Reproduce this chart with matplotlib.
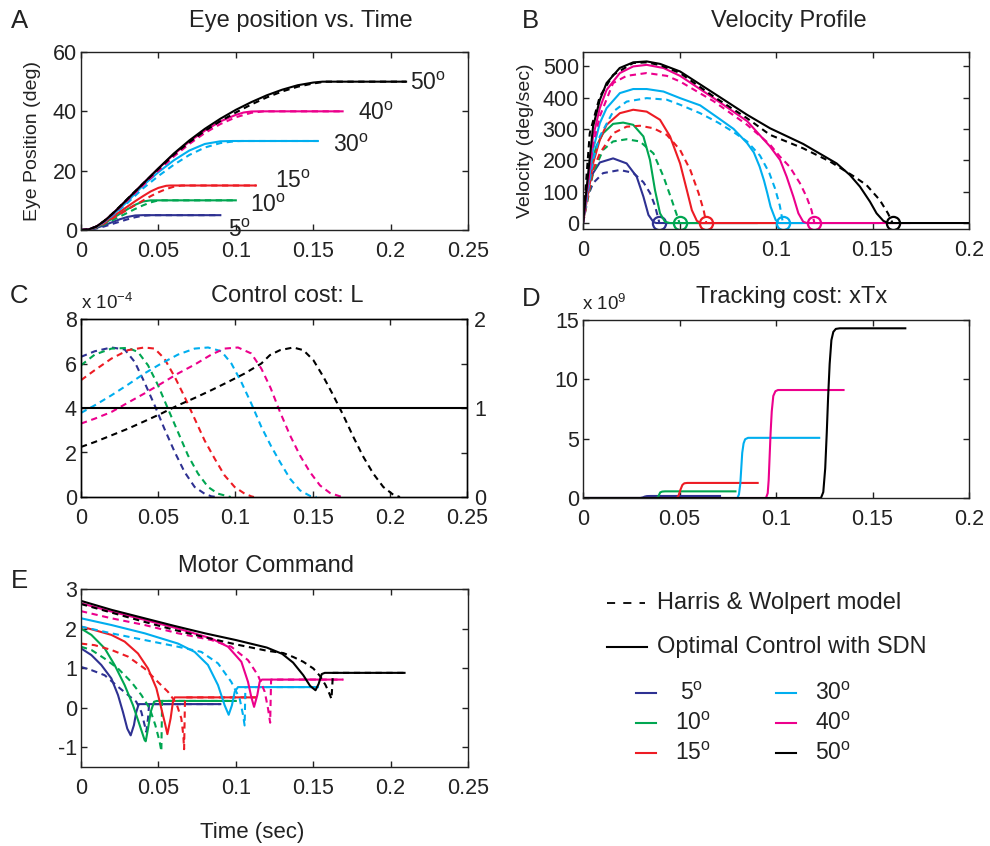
import matplotlib
matplotlib.use("Agg")
import matplotlib.pyplot as plt
from matplotlib.lines import Line2D

plt.rcParams['font.family'] = ['Liberation Sans', 'DejaVu Sans']
plt.rcParams['mathtext.fontset'] = 'custom'
plt.rcParams['mathtext.rm'] = 'Liberation Sans'
plt.rcParams['mathtext.it'] = 'Liberation Sans:italic'
plt.rcParams['mathtext.bf'] = 'Liberation Sans:bold'
plt.rcParams['axes.linewidth'] = 1.0

# ---------------- data ----------------
amplitudes = [5, 10, 15, 30, 40, 50]
colors = ['#2E3192', '#00A651', '#ED1C24', '#00AEEF', '#EC008C', '#000000']

x_ticks_025 = [0, 0.05, 0.1, 0.15, 0.2, 0.25]
x_labels_025 = ['0', '0.05', '0.1', '0.15', '0.2', '0.25']
x_ticks_02 = [0, 0.05, 0.1, 0.15, 0.2]
x_labels_02 = ['0', '0.05', '0.1', '0.15', '0.2']
E_y_ticks = [-1, 0, 1, 2, 3]
E_y_labels = ['-1', '0', '1', '2', '3']

# Panel A: eye position (deg) vs time (s)
A_5_solid = [(0, 0), (0.005, 0.15), (0.01, 0.7), (0.015, 1.6), (0.02, 2.6), (0.025, 3.6), (0.03, 4.4), (0.035, 4.9), (0.04, 5.0), (0.09, 5.0)]
A_5_dashed = [(0, 0), (0.005, 0.1), (0.01, 0.5), (0.015, 1.2), (0.02, 2.0), (0.025, 2.8), (0.03, 3.6), (0.035, 4.3), (0.04, 4.8), (0.045, 5.0), (0.09, 5.0)]
A_10_solid = [(0, 0), (0.005, 0.2), (0.01, 0.9), (0.015, 2.2), (0.02, 3.8), (0.025, 5.4), (0.03, 7.0), (0.035, 8.5), (0.04, 9.6), (0.045, 10.0), (0.1, 10.0)]
A_10_dashed = [(0, 0), (0.005, 0.15), (0.01, 0.8), (0.015, 1.9), (0.02, 3.2), (0.025, 4.5), (0.03, 5.8), (0.035, 7.1), (0.04, 8.3), (0.045, 9.3), (0.05, 10.0), (0.1, 10.0)]
A_15_solid = [(0, 0), (0.005, 0.2), (0.01, 1.0), (0.015, 2.5), (0.02, 4.3), (0.025, 6.1), (0.03, 7.9), (0.035, 9.7), (0.04, 11.4), (0.045, 13.0), (0.05, 14.2), (0.055, 14.9), (0.058, 15.0), (0.113, 15.0)]
A_15_dashed = [(0, 0), (0.005, 0.2), (0.01, 0.9), (0.015, 2.2), (0.02, 3.8), (0.025, 5.3), (0.03, 6.9), (0.035, 8.4), (0.04, 9.9), (0.045, 11.4), (0.05, 12.7), (0.055, 13.8), (0.06, 14.6), (0.065, 15.0), (0.113, 15.0)]
A_30_solid = [(0, 0), (0.005, 0.2), (0.01, 1.1), (0.015, 2.8), (0.02, 4.9), (0.025, 7.2), (0.03, 9.6), (0.04, 15.0), (0.05, 19.5), (0.06, 23.5), (0.07, 26.8), (0.08, 29.0), (0.09, 29.9), (0.098, 30.0), (0.153, 30.0)]
A_30_dashed = [(0, 0), (0.005, 0.2), (0.01, 1.1), (0.015, 2.7), (0.02, 4.7), (0.025, 6.9), (0.03, 9.1), (0.04, 14.0), (0.05, 18.2), (0.06, 22.0), (0.07, 25.3), (0.08, 27.8), (0.09, 29.3), (0.1, 29.95), (0.104, 30.0), (0.153, 30.0)]
A_40_solid = [(0, 0), (0.005, 0.2), (0.01, 1.2), (0.015, 3.0), (0.02, 5.3), (0.025, 7.8), (0.03, 10.4), (0.04, 15.6), (0.05, 20.7), (0.06, 25.5), (0.07, 29.8), (0.08, 33.5), (0.09, 36.6), (0.1, 38.8), (0.105, 39.6), (0.11, 39.95), (0.115, 40.0), (0.169, 40.0)]
A_40_dashed = [(0, 0), (0.005, 0.2), (0.01, 1.2), (0.015, 2.9), (0.02, 5.1), (0.025, 7.5), (0.03, 10.0), (0.04, 15.0), (0.05, 20.0), (0.06, 24.8), (0.07, 29.0), (0.08, 32.7), (0.09, 35.7), (0.1, 38.0), (0.11, 39.5), (0.118, 40.0), (0.169, 40.0)]
A_50_solid = [(0, 0), (0.005, 0.2), (0.01, 1.2), (0.015, 3.0), (0.02, 5.3), (0.025, 7.8), (0.03, 10.4), (0.04, 15.6), (0.05, 20.8), (0.06, 25.8), (0.07, 30.2), (0.08, 34.1), (0.09, 37.5), (0.1, 40.5), (0.11, 43.1), (0.12, 45.4), (0.13, 47.3), (0.14, 48.8), (0.15, 49.7), (0.156, 50.0), (0.21, 50.0)]
A_50_dashed = [(0, 0), (0.005, 0.2), (0.01, 1.2), (0.015, 3.1), (0.02, 5.4), (0.025, 7.9), (0.03, 10.5), (0.04, 15.6), (0.05, 20.6), (0.06, 25.4), (0.07, 29.6), (0.08, 33.4), (0.09, 36.7), (0.1, 39.6), (0.11, 42.3), (0.12, 44.7), (0.13, 46.7), (0.14, 48.3), (0.15, 49.4), (0.158, 50.0), (0.21, 50.0)]

# Panel B: velocity (deg/s)
B_5_solid = [(0, 0), (0.0017, 95), (0.0052, 159), (0.0087, 193), (0.0156, 206), (0.0226, 190), (0.0278, 148), (0.0313, 84), (0.0339, 26), (0.0365, 3), (0.038, 0), (0.09, 0)]
B_5_dashed = [(0, 0), (0.0017, 73), (0.0052, 127), (0.0104, 159), (0.0191, 169), (0.026, 160), (0.0313, 130), (0.0348, 95), (0.0373, 55), (0.0396, 0)]
B_10_solid = [(0, 0), (0.0035, 169), (0.0069, 244), (0.0104, 286), (0.0156, 316), (0.0208, 320), (0.026, 313), (0.0313, 276), (0.0347, 201), (0.0373, 105), (0.0399, 31), (0.0425, 4), (0.045, 0), (0.1, 0)]
B_10_dashed = [(0, 0), (0.0052, 159), (0.0104, 233), (0.0156, 260), (0.0226, 267), (0.0295, 260), (0.0365, 222), (0.0417, 148), (0.046, 73), (0.0486, 26), (0.05, 0)]
B_15_solid = [(0, 0), (0.0052, 190), (0.0087, 265), (0.0122, 313), (0.0191, 350), (0.026, 361), (0.033, 355), (0.0399, 329), (0.0451, 276), (0.0503, 190), (0.0538, 105), (0.0564, 41), (0.059, 7), (0.061, 0), (0.113, 0)]
B_15_dashed = [(0, 0), (0.0052, 169), (0.0087, 222), (0.0156, 286), (0.0226, 307), (0.0295, 310), (0.0365, 302), (0.0434, 281), (0.0503, 233), (0.0556, 169), (0.0599, 95), (0.0625, 41), (0.0639, 0)]
B_30_solid = [(0, 0), (0.0052, 233), (0.0087, 318), (0.0122, 366), (0.0191, 414), (0.026, 427), (0.033, 427), (0.0417, 419), (0.0503, 398), (0.0607, 375), (0.07, 335), (0.078, 300), (0.085, 255), (0.0885, 225), (0.0915, 180), (0.0938, 135), (0.0955, 95), (0.0972, 52), (0.0998, 10), (0.1015, 0), (0.153, 0)]
B_30_dashed = [(0, 0), (0.0052, 201), (0.0087, 276), (0.0156, 355), (0.0226, 387), (0.033, 398), (0.0434, 393), (0.0503, 377), (0.0607, 350), (0.07, 320), (0.078, 290), (0.085, 260), (0.0917, 215), (0.0965, 160), (0.0995, 110), (0.102, 55), (0.1036, 0)]
B_40_solid = [(0, 0), (0.0052, 275), (0.0087, 366), (0.0122, 424), (0.0191, 478), (0.026, 499), (0.033, 504), (0.0417, 494), (0.0503, 469), (0.0677, 398), (0.085, 325), (0.0969, 244), (0.1021, 201), (0.1055, 148), (0.109, 84), (0.1116, 31), (0.1141, 4), (0.116, 0), (0.169, 0)]
B_40_dashed = [(0, 0), (0.0052, 250), (0.0087, 340), (0.0156, 446), (0.0226, 469), (0.033, 478), (0.0434, 469), (0.0503, 451), (0.0677, 388), (0.085, 313), (0.0969, 250), (0.102, 212), (0.107, 180), (0.1124, 127), (0.1158, 84), (0.1184, 41), (0.1199, 0)]
B_50_solid = [(0, 0), (0.0052, 307), (0.0087, 392), (0.0122, 446), (0.019, 494), (0.026, 512), (0.033, 515), (0.04, 507), (0.0503, 483), (0.0677, 414), (0.085, 345), (0.0969, 302), (0.1141, 252), (0.1314, 190), (0.1383, 153), (0.1435, 116), (0.1487, 68), (0.1521, 31), (0.1556, 7), (0.158, 0), (0.21, 0)]
B_50_dashed = [(0, 0), (0.0035, 286), (0.0087, 403), (0.0156, 472), (0.026, 510), (0.033, 512), (0.04, 503), (0.0503, 478), (0.0677, 403), (0.085, 334), (0.0969, 281), (0.1141, 238), (0.128, 196), (0.14, 150), (0.1469, 121), (0.1538, 73), (0.158, 31), (0.1604, 0)]
B_end_times = [0.0396, 0.05, 0.0639, 0.1036, 0.1199, 0.1604]

# Panel C: control cost L (x 1e-4), Harris & Wolpert (dashed); SDN level on right axis
C_5_dashed = [(0, 6.3), (0.0089, 6.55), (0.0197, 6.72), (0.0283, 6.63), (0.0348, 6.07), (0.041, 5.17), (0.0477, 4.12), (0.054, 3.07), (0.0607, 2.02), (0.0671, 1.12), (0.0736, 0.45), (0.08, 0.15), (0.0844, 0.03), (0.088, 0)]
C_10_dashed = [(0, 5.92), (0.0089, 6.4), (0.0197, 6.67), (0.0304, 6.7), (0.0369, 6.52), (0.0434, 5.92), (0.0499, 5.02), (0.0563, 3.97), (0.0628, 2.92), (0.0693, 1.87), (0.0758, 1.05), (0.0823, 0.45), (0.0887, 0.15), (0.0952, 0.03), (0.097, 0)]
C_15_dashed = [(0, 5.25), (0.0089, 5.7), (0.0197, 6.22), (0.0304, 6.6), (0.041, 6.72), (0.0477, 6.67), (0.054, 6.22), (0.0607, 5.4), (0.0671, 4.5), (0.0736, 3.52), (0.08, 2.55), (0.0866, 1.72), (0.093, 0.97), (0.0995, 0.45), (0.106, 0.15), (0.1103, 0.03), (0.112, 0)]
C_30_dashed = [(0, 3.78), (0.0089, 4.12), (0.0197, 4.57), (0.0304, 5.05), (0.041, 5.55), (0.052, 6.0), (0.0628, 6.4), (0.0736, 6.67), (0.0823, 6.72), (0.0909, 6.55), (0.0974, 6.0), (0.1038, 5.17), (0.1103, 4.2), (0.1168, 3.15), (0.123, 2.3), (0.1289, 1.57), (0.1354, 0.82), (0.1418, 0.3), (0.1483, 0.05), (0.1526, 0)]
C_40_dashed = [(0, 3.3), (0.0089, 3.52), (0.0197, 3.82), (0.0304, 4.24), (0.041, 4.65), (0.052, 5.1), (0.0628, 5.55), (0.0736, 5.95), (0.0844, 6.4), (0.093, 6.67), (0.1017, 6.72), (0.1103, 6.45), (0.1168, 5.77), (0.1228, 4.9), (0.1289, 3.82), (0.1354, 2.77), (0.1418, 1.87), (0.1483, 1.12), (0.1548, 0.52), (0.1613, 0.18), (0.1677, 0.03), (0.17, 0)]
C_50_dashed = [(0, 2.25), (0.0089, 2.47), (0.0197, 2.77), (0.0304, 3.07), (0.041, 3.4), (0.052, 3.75), (0.0628, 4.12), (0.0736, 4.45), (0.0844, 4.8), (0.0952, 5.17), (0.106, 5.55), (0.1168, 6.0), (0.1224, 6.38), (0.1289, 6.6), (0.1375, 6.72), (0.144, 6.6), (0.1505, 6.15), (0.157, 5.4), (0.1634, 4.57), (0.1699, 3.67), (0.1764, 2.7), (0.1829, 1.8), (0.1893, 1.05), (0.1958, 0.45), (0.2023, 0.1), (0.2066, 0)]
C_sdn_level = [(0, 1.0), (0.25, 1.0)]

# Panel D: tracking cost xTx (x 1e9)
D_5_solid = [(0, 0), (0.0297, 0), (0.031, 0.05), (0.032, 0.12), (0.0331, 0.16), (0.035, 0.17), (0.071, 0.17)]
D_10_solid = [(0, 0), (0.038, 0), (0.039, 0.1), (0.0395, 0.3), (0.04, 0.47), (0.041, 0.54), (0.0425, 0.56), (0.079, 0.56)]
D_15_solid = [(0, 0), (0.0486, 0), (0.0495, 0.2), (0.0505, 0.7), (0.0515, 1.1), (0.0525, 1.24), (0.054, 1.27), (0.0905, 1.27)]
D_30_solid = [(0, 0), (0.08, 0), (0.0808, 0.3), (0.0815, 1.2), (0.082, 2.5), (0.0825, 3.8), (0.0832, 4.6), (0.084, 4.95), (0.0855, 5.07), (0.1224, 5.07)]
D_40_solid = [(0, 0), (0.0948, 0), (0.0957, 0.4), (0.0962, 1.5), (0.0967, 3.5), (0.0972, 5.5), (0.0978, 7.3), (0.0986, 8.6), (0.0997, 9.0), (0.101, 9.1), (0.135, 9.1)]
D_50_solid = [(0, 0), (0.1233, 0), (0.1245, 0.5), (0.1255, 2.5), (0.1263, 5.5), (0.127, 8.5), (0.1278, 11.3), (0.1287, 13.3), (0.1297, 14.0), (0.131, 14.25), (0.133, 14.3), (0.167, 14.3)]

# Panel E: motor command
E_5_solid = [(0, 1.5), (0.0067, 1.33), (0.0131, 1.08), (0.0196, 0.74), (0.0239, 0.32), (0.0271, -0.11), (0.0299, -0.53), (0.0321, -0.70), (0.0342, -0.44), (0.0357, -0.11), (0.0373, 0.09), (0.039, 0.09), (0.09, 0.09)]
E_5_dashed = [(0, 1.03), (0.0067, 0.95), (0.0153, 0.82), (0.0239, 0.53), (0.0304, 0.32), (0.0357, 0.15), (0.039, -0.11), (0.0411, -0.44), (0.0422, -0.61), (0.0433, -0.27), (0.044, 0.09), (0.09, 0.09)]
E_10_solid = [(0, 2.0), (0.0067, 1.84), (0.0153, 1.5), (0.0217, 1.08), (0.0282, 0.57), (0.0336, 0.06), (0.0379, -0.44), (0.0411, -0.82), (0.0418, -0.85), (0.0433, -0.53), (0.045, -0.11), (0.0472, 0.15), (0.049, 0.17), (0.1, 0.17)]
E_10_dashed = [(0, 1.54), (0.0067, 1.46), (0.0153, 1.24), (0.0239, 0.99), (0.0325, 0.65), (0.039, 0.32), (0.0444, -0.02), (0.048, -0.44), (0.0508, -0.86), (0.0519, -1.1), (0.0524, 0.17), (0.1, 0.17)]
E_15_solid = [(0, 2.05), (0.0088, 1.96), (0.0196, 1.84), (0.0282, 1.67), (0.0368, 1.37), (0.0433, 0.99), (0.0487, 0.49), (0.0519, -0.02), (0.0545, -0.44), (0.0558, -0.67), (0.0579, -0.27), (0.0594, 0.15), (0.0605, 0.26), (0.063, 0.26), (0.113, 0.26)]
E_15_dashed = [(0, 1.62), (0.0088, 1.58), (0.0196, 1.46), (0.0304, 1.29), (0.0411, 0.99), (0.0497, 0.65), (0.0562, 0.4), (0.0616, 0.11), (0.0648, -0.27), (0.0661, -0.70), (0.0666, -1.05), (0.0672, 0.26), (0.113, 0.26)]
E_30_solid = [(0, 2.26), (0.0196, 2.09), (0.0411, 1.88), (0.0627, 1.62), (0.0734, 1.41), (0.082, 1.08), (0.0885, 0.57), (0.0928, 0.06), (0.0954, -0.18), (0.0975, 0.06), (0.0993, 0.4), (0.1014, 0.52), (0.153, 0.52)]
E_30_dashed = [(0, 2.05), (0.0196, 1.88), (0.0411, 1.71), (0.0627, 1.54), (0.0777, 1.41), (0.0885, 1.12), (0.0971, 0.65), (0.1025, 0.23), (0.1047, -0.19), (0.1057, -0.45), (0.1062, 0.52), (0.153, 0.52)]
E_40_solid = [(0, 2.64), (0.0196, 2.43), (0.0411, 2.22), (0.0627, 2.0), (0.0842, 1.75), (0.095, 1.54), (0.1036, 1.16), (0.1079, 0.65), (0.11, 0.27), (0.1118, 0.02), (0.1139, 0.32), (0.1154, 0.65), (0.1169, 0.71), (0.169, 0.71)]
E_40_dashed = [(0, 2.44), (0.0196, 2.26), (0.0411, 2.09), (0.0627, 1.88), (0.0842, 1.71), (0.0971, 1.54), (0.1079, 1.2), (0.1143, 0.82), (0.1187, 0.4), (0.1208, -0.02), (0.1222, -0.38), (0.1228, 0.71), (0.169, 0.71)]
E_50_solid = [(0, 2.7), (0.02, 2.47), (0.04, 2.27), (0.06, 2.07), (0.08, 1.88), (0.1, 1.71), (0.12, 1.52), (0.13, 1.36), (0.137, 1.14), (0.1436, 0.82), (0.148, 0.55), (0.1515, 0.44), (0.1535, 0.6), (0.1555, 0.85), (0.1575, 0.88), (0.209, 0.88)]
E_50_dashed = [(0, 2.62), (0.02, 2.4), (0.04, 2.18), (0.06, 1.97), (0.08, 1.78), (0.1, 1.6), (0.12, 1.44), (0.1307, 1.38), (0.1372, 1.28), (0.1436, 1.16), (0.1501, 0.99), (0.1544, 0.8), (0.158, 0.57), (0.1605, 0.35), (0.1618, 0.22), (0.1628, 0.88), (0.209, 0.88)]

A_solid = [A_5_solid, A_10_solid, A_15_solid, A_30_solid, A_40_solid, A_50_solid]
A_dashed = [A_5_dashed, A_10_dashed, A_15_dashed, A_30_dashed, A_40_dashed, A_50_dashed]
B_solid = [B_5_solid, B_10_solid, B_15_solid, B_30_solid, B_40_solid, B_50_solid]
B_dashed = [B_5_dashed, B_10_dashed, B_15_dashed, B_30_dashed, B_40_dashed, B_50_dashed]
C_dashed = [C_5_dashed, C_10_dashed, C_15_dashed, C_30_dashed, C_40_dashed, C_50_dashed]
D_solid = [D_5_solid, D_10_solid, D_15_solid, D_30_solid, D_40_solid, D_50_solid]
E_solid = [E_5_solid, E_10_solid, E_15_solid, E_30_solid, E_40_solid, E_50_solid]
E_dashed = [E_5_dashed, E_10_dashed, E_15_dashed, E_30_dashed, E_40_dashed, E_50_dashed]

# ---------------- figure ----------------
W, H = 990, 846
fig = plt.figure(figsize=(W / 100, H / 100), dpi=100)

def rect(l, t, r, b):
    return [l / W, 1 - b / H, (r - l) / W, (b - t) / H]

def ftext(x, y, s, **kw):
    fig.text(x / W, 1 - y / H, s, **kw)

TICK_FS = 15.5
TITLE_FS = 17
LW = 1.5
DASH = (0, (3.0, 2.2))
TC = '#222222'

def deg(a):
    return str(a) + r'$^{\mathrm{o}}$'

def style(ax, right=True):
    ax.tick_params(direction='in', length=4, width=1, top=True, right=right,
                   labelsize=TICK_FS, colors=TC)
    ax.tick_params(axis='x', pad=8)
    ax.tick_params(axis='y', pad=3)
    for s in ax.spines.values():
        s.set_color(TC)

def xy(curve):
    return [p[0] for p in curve], [p[1] for p in curve]

# Panel A
axA = fig.add_axes(rect(81, 52, 468, 230))
for c, s, d in zip(colors, A_solid, A_dashed):
    axA.plot(*xy(s), color=c, lw=LW)
    axA.plot(*xy(d), color=c, lw=LW, linestyle=DASH)
axA.set_xlim(0, 0.25)
axA.set_ylim(0, 60)
axA.set_xticks(x_ticks_025, x_labels_025)
axA.set_yticks([0, 20, 40, 60])
style(axA)
A_label_pos = [(0.0952, -2.3), (0.1092, 6.2), (0.1253, 14.0), (0.163, 26.4), (0.1791, 37.1), (0.2125, 47.2)]
for a, (tx, ty) in zip(amplitudes, A_label_pos):
    axA.text(tx, ty, deg(a), fontsize=16.5, va='baseline', ha='left', color=TC, clip_on=False)

# Panel B
axB = fig.add_axes(rect(583, 52, 969, 229))
for c, s, d, te in zip(colors, B_solid, B_dashed, B_end_times):
    axB.plot(*xy(s), color=c, lw=LW)
    axB.plot(*xy(d), color=c, lw=LW, linestyle=DASH)
    axB.plot([te], [0], 'o', mfc='none', mec=c, mew=1.6, ms=9.5)
axB.set_xlim(0, 0.2)
axB.set_ylim(-19, 545)
axB.set_xticks(x_ticks_02, x_labels_02)
axB.set_yticks([0, 100, 200, 300, 400, 500])
style(axB)

# Panel C
axC = fig.add_axes(rect(81, 319, 467, 497))
for c, d in zip(colors, C_dashed):
    axC.plot(*xy(d), color=c, lw=LW, linestyle=DASH)
axC.set_xlim(0, 0.25)
axC.set_ylim(0, 8)
axC.set_xticks(x_ticks_025, x_labels_025)
axC.set_yticks([0, 2, 4, 6, 8])
style(axC, right=False)
axC2 = axC.twinx()
axC2.plot(*xy(C_sdn_level), color='black', lw=LW)
axC2.set_ylim(0, 2)
axC2.set_yticks([0, 0.5, 1, 1.5, 2], ['0', '', '1', '', '2'])
axC2.tick_params(direction='in', length=4, width=1, labelsize=TICK_FS, pad=5, colors=TC)

# Panel D
axD = fig.add_axes(rect(583, 320, 969, 498))
for c, s in zip(colors, D_solid):
    axD.plot(*xy(s), color=c, lw=LW)
axD.set_xlim(0, 0.2)
axD.set_ylim(0, 15)
axD.set_xticks(x_ticks_02, x_labels_02)
axD.set_yticks([0, 5, 10, 15])
style(axD)

# Panel E
axE = fig.add_axes(rect(81, 589, 468, 767))
for c, s, d in zip(colors, E_solid, E_dashed):
    axE.plot(*xy(s), color=c, lw=LW)
    axE.plot(*xy(d), color=c, lw=LW, linestyle=DASH)
axE.set_xlim(0, 0.25)
axE.set_ylim(-1.5, 3)
axE.set_xticks(x_ticks_025, x_labels_025)
axE.set_yticks(E_y_ticks, E_y_labels)
style(axE)

# Titles, panel letters, labels
ftext(301, 27, 'Eye position vs. Time', fontsize=TITLE_FS, ha='center', va='baseline', color=TC)
ftext(789, 27, 'Velocity Profile', fontsize=TITLE_FS, ha='center', va='baseline', color=TC)
ftext(287, 302, 'Control cost: L', fontsize=TITLE_FS, ha='center', va='baseline', color=TC)
ftext(792, 303, 'Tracking cost: xTx', fontsize=TITLE_FS, ha='center', va='baseline', color=TC)
ftext(266, 572, 'Motor Command', fontsize=TITLE_FS, ha='center', va='baseline', color=TC)
for letter, (px, py) in zip('ABCDE', [(11, 28), (522, 28), (10, 303), (522, 306), (11, 588)]):
    ftext(px, py, letter, fontsize=18.5, ha='left', va='baseline', color=TC)
ftext(81, 309, 'x 10$^{-4}$', fontsize=13.5, ha='left', va='baseline', color=TC)
ftext(582, 310, 'x 10$^{9}$', fontsize=13.5, ha='left', va='baseline', color=TC)
ftext(33, 141, 'Eye Position (deg)', fontsize=14, rotation=90, ha='center', va='center', color=TC)
ftext(526, 141, 'Velocity (deg/sec)', fontsize=14, rotation=90, ha='center', va='center', color=TC)
ftext(252, 838, 'Time (sec)', fontsize=16, ha='center', va='baseline', color=TC)

# Legend (drawn in figure pixel space)
axL = fig.add_axes([0, 0, 1, 1], zorder=-1)
axL.set_xlim(0, W)
axL.set_ylim(H, 0)
axL.axis('off')
axL.add_line(Line2D([607, 645], [603, 603], color='black', lw=1.3, linestyle=(0, (4.5, 4.5))))
axL.text(657, 603, 'Harris & Wolpert model', fontsize=17, va='center', ha='left', color=TC)
axL.add_line(Line2D([607, 647], [647, 647], color='black', lw=1.5))
axL.text(657, 647, 'Optimal Control with SDN', fontsize=17, va='center', ha='left', color=TC)
legend_slots = [(636, 693), (636, 723), (636, 753), (776, 693), (776, 723), (776, 753)]
for (lx, ly), c, a in zip(legend_slots, colors, amplitudes):
    axL.add_line(Line2D([lx, lx + 20], [ly, ly], color=c, lw=1.5))
    axL.text(lx + (44 if a < 10 else 39), ly, deg(a), fontsize=16.5, va='center', ha='left', color=TC)

fig.savefig('out.png', dpi=100)
